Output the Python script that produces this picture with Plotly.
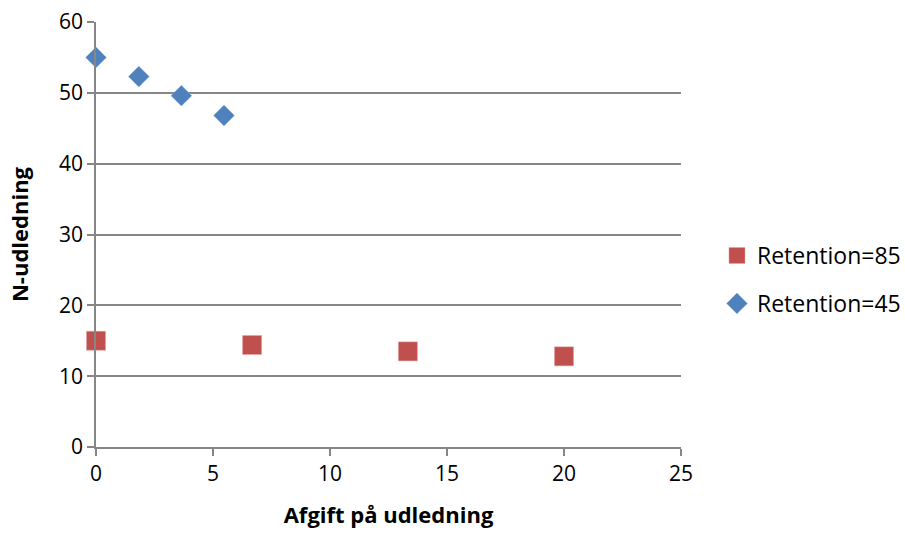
import plotly.graph_objects as go

x85 = [0, 6.67, 13.33, 20]
y85 = [15.0, 14.4, 13.5, 12.8]
x45 = [0, 1.83, 3.65, 5.47]
y45 = [55.0, 52.3, 49.6, 46.8]

x_ticks = [0, 5, 10, 15, 20, 25]
y_ticks = [0, 10, 20, 30, 40, 50, 60]

FONT = "Open Sans, Liberation Sans, sans-serif"

fig = go.Figure()
fig.add_trace(go.Scatter(x=x85, y=y85, mode="markers", name="Retention=85",
                         legendgroup="a", cliponaxis=False,
                         marker=dict(symbol="square", size=19, color="#C0504D",
                                     line=dict(width=0.5, color="#E0A0A0"))))
fig.add_trace(go.Scatter(x=x45, y=y45, mode="markers", name="Retention=45",
                         legendgroup="b", cliponaxis=False,
                         marker=dict(symbol="diamond", size=16, color="#4F81BD",
                                     line=dict(width=0.5, color="#8FB0DA"))))

fig.update_layout(
    width=905, height=535,
    margin=dict(l=96, r=224, t=22, b=88, autoexpand=False),
    plot_bgcolor="white", paper_bgcolor="white",
    font=dict(family=FONT, size=21, color="black"),
    legend=dict(x=1.0615, y=0.394, yanchor="middle", xanchor="left",
                font=dict(size=23), tracegroupgap=15),
    xaxis=dict(range=[0, 25], tickvals=x_ticks, showgrid=False,
               showline=True, linecolor="#868686", linewidth=1.5,
               ticks="outside", tickcolor="#868686", ticklen=7, tickwidth=1.5,
               zeroline=False, tickfont=dict(size=21),
               title=dict(text="<b>Afgift på udledning</b>", font=dict(size=22), standoff=22)),
    yaxis=dict(range=[0, 60], tickvals=y_ticks, showgrid=True, gridcolor="#868686",
               gridwidth=1.5, showline=True, linecolor="#868686", linewidth=1.5,
               ticks="outside", tickcolor="#868686", ticklen=7, tickwidth=1.5,
               zeroline=False, tickfont=dict(size=21),
               title=dict(text="<b>N-udledning</b>", font=dict(size=22), standoff=24)),
)
fig.write_html("out.html")
